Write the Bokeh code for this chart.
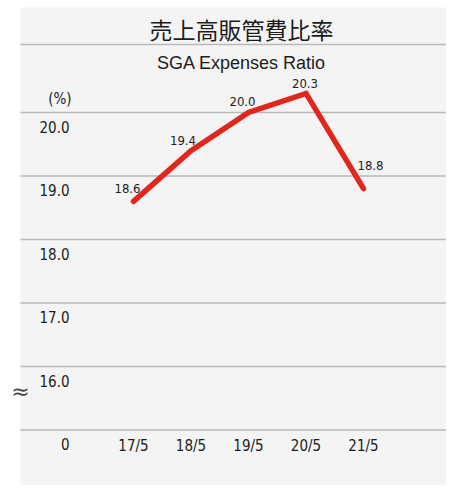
from bokeh.plotting import figure
from bokeh.models import Range1d, BoxAnnotation
from bokeh.core.properties import value
from bokeh.embed import file_html
from bokeh.resources import INLINE

# ---- data ----
categories = ["17/5", "18/5", "19/5", "20/5", "21/5"]
ratios = [18.6, 19.4, 20.0, 20.3, 18.8]
ratio_labels = ["18.6", "19.4", "20.0", "20.3", "18.8"]
y_ticks = [15, 16, 17, 18, 19, 20]          # 15 = broken-axis baseline (shown as 0)
y_tick_labels = ["0", "16.0", "17.0", "18.0", "19.0", "20.0"]
title_ja = "売上高販管費比率"
title_en = "SGA Expenses Ratio"
unit_label = "(%)"

# label offsets (screen px)
label_dx = [-6, -8, -6, -1, 7]
label_dy = [13, 10, 11, 10, 23]

# ---- layout helpers (image pixel -> data units) ----
W, H = 446, 485
PXX, PXY = 57.5, 63.5
X1_PAGE, Y20_PAGE = 133, 112


def xp(px):
    return 1 + (px - X1_PAGE) / PXX


def yp(py):
    return 20 - (py - Y20_PAGE) / PXY


NARROW = value("DejaVu Sans Condensed")
TXT = "#1c1c1c"

p = figure(width=W, height=H, output_backend="svg", toolbar_location=None,
           x_range=Range1d(xp(0), xp(W)), y_range=Range1d(yp(H), yp(0)),
           min_border=0, min_border_left=0, min_border_right=0,
           min_border_top=0, min_border_bottom=0)
p.axis.visible = False
p.grid.visible = False
p.outline_line_color = None
p.background_fill_color = "white"
p.border_fill_color = "white"

# gray panel
p.add_layout(BoxAnnotation(left=xp(20), right=xp(480), bottom=yp(520), top=yp(7),
                           fill_color="#f4f4f4", fill_alpha=1.0, line_color=None,
                           level="underlay"))

# separator under the Japanese title
p.segment(x0=[xp(20)], x1=[xp(480)], y0=[yp(44)], y1=[yp(44)],
          line_color="#b9b9b9", line_width=1.6)

# grid lines
p.segment(x0=[xp(20)] * len(y_ticks), x1=[xp(480)] * len(y_ticks),
          y0=y_ticks, y1=y_ticks, line_color="#b9b9b9", line_width=1.6)

# titles
p.text(x=[xp(241)], y=[yp(28)], text=[title_ja], text_font=value("Noto Sans CJK JP"),
       text_font_size="23px", text_align="center", text_baseline="middle",
       text_color=TXT)
p.text(x=[xp(241)], y=[yp(62)], text=[title_en], text_font=value("Liberation Sans"),
       text_font_size="18px", text_align="center", text_baseline="middle",
       text_color=TXT)
p.text(x=[xp(71)], y=[yp(98)], text=[unit_label], text_font=NARROW,
       text_font_size="15px", text_align="right", text_baseline="middle",
       text_color=TXT)

# y tick labels (placed just below their grid lines)
p.text(x=[xp(69)] * len(y_ticks), y=y_ticks, text=y_tick_labels, text_font=NARROW,
       text_font_size="15px", text_align="right", text_baseline="middle",
       y_offset=14, text_color=TXT)

# axis break mark
p.text(x=[xp(20)], y=[yp(391)], text=["≈"], text_font=value("DejaVu Sans"),
       text_font_size="22px", text_align="center", text_baseline="middle",
       text_color="#444444")

# x labels
xs = list(range(1, len(categories) + 1))
p.text(x=xs, y=[15] * len(xs), text=categories, text_font=NARROW,
       text_font_size="15px", text_align="center", text_baseline="middle",
       y_offset=16, text_color=TXT)

# line
p.line(xs, ratios, line_color="#e2261c", line_width=5.5, line_cap="round",
       line_join="miter")

# value labels
p.text(x=xs, y=ratios, text=ratio_labels, text_font=NARROW, text_font_size="13px",
       text_align="center", text_baseline="middle",
       x_offset=label_dx, y_offset=[-d for d in label_dy], text_color=TXT)

open("out.html", "w").write(file_html(p, INLINE))
